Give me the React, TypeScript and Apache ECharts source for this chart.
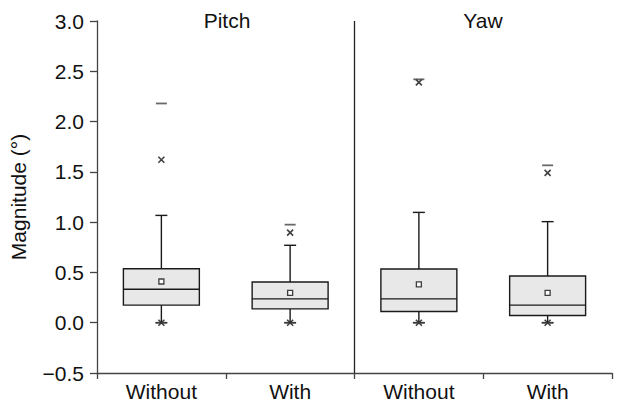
import React, { useEffect, useRef } from "react";
import * as echarts from "echarts";

const categories = ["Pitch|Without", "Pitch|With", "Yaw|Without", "Yaw|With"];
const groupTitles = ["Pitch", "Yaw"];
// [category, lower whisker, Q1, median, Q3, upper whisker]
const boxes = [
  [0, 0, 0.175, 0.333, 0.537, 1.067],
  [1, 0, 0.138, 0.237, 0.405, 0.77],
  [2, 0, 0.112, 0.237, 0.534, 1.097],
  [3, 0, 0.072, 0.175, 0.464, 1.005],
];
const means = [
  [0, 0.41],
  [1, 0.296],
  [2, 0.382],
  [3, 0.296],
];
// 1% / 99% markers (crosses)
const crosses = [
  [0, 1.62], [0, 0],
  [1, 0.896], [1, 0],
  [2, 2.39], [2, 0],
  [3, 1.49], [3, 0],
];
// min / max markers (dashes)
const dashes = [
  [0, 2.18], [0, 0],
  [1, 0.975], [1, 0],
  [2, 2.42], [2, 0],
  [3, 1.565], [3, 0],
];
const separatorPosition = 2; // boundary between Pitch and Yaw groups
const yMin = -0.5;
const yMax = 3.0;
const yStep = 0.5;

export default function App() {
  const ref = useRef<HTMLDivElement>(null);
  useEffect(() => {
    if (!ref.current) return;
    const chart = echarts.init(ref.current, undefined, { renderer: "svg" });
    const font = "Liberation Sans, Arial, sans-serif";
    const ink = "#111";
    const axisColor = "#444";
    chart.setOption({
      animation: false,
      backgroundColor: "#fff",
      grid: { left: 96, right: 8, top: 21, bottom: 34 },
      xAxis: [
        {
          type: "category",
          data: categories,
          boundaryGap: true,
          axisLine: { onZero: false, lineStyle: { color: axisColor, width: 1.3 } },
          axisTick: { show: true, length: 6, lineStyle: { color: axisColor, width: 1.3 } },
          axisLabel: {
            formatter: (v: string) => v.split("|")[1],
            fontSize: 21,
            color: ink,
            fontFamily: font,
            margin: 8,
          },
          splitLine: { show: false },
        },
        {
          type: "value",
          min: 0,
          max: categories.length,
          show: false,
        },
      ],
      yAxis: {
        type: "value",
        min: yMin,
        max: yMax,
        interval: yStep,
        name: "Magnitude (°)",
        nameLocation: "middle",
        nameGap: 68,
        nameTextStyle: { fontSize: 21, color: ink, fontFamily: font },
        axisLine: { show: true, lineStyle: { color: axisColor, width: 1.3 } },
        axisTick: { show: true, length: 7, lineStyle: { color: axisColor, width: 1.3 } },
        axisLabel: {
          formatter: (v: number) => (v < 0 ? "\u2212" + Math.abs(v).toFixed(1) : v.toFixed(1)),
          fontSize: 21,
          color: ink,
          fontFamily: font,
          margin: 13,
        },
        splitLine: { show: false },
      },
      graphic: groupTitles.map((t, i) => ({
        type: "text",
        x: i === 0 ? 227 : 483,
        y: 10,
        style: { text: t, fontSize: 21, fill: ink, fontFamily: font, textAlign: "center" },
      })),
      series: [
        {
          type: "custom",
          data: boxes,
          encode: { x: 0, y: [1, 2, 3, 4, 5] },
          renderItem: (params: any, api: any) => {
            const c = api.value(0);
            const pLow = api.coord([c, api.value(1)]);
            const pQ1 = api.coord([c, api.value(2)]);
            const pMed = api.coord([c, api.value(3)]);
            const pQ3 = api.coord([c, api.value(4)]);
            const pHigh = api.coord([c, api.value(5)]);
            const bw = api.size([1, 0])[0] * 0.59;
            const cap = 12;
            const x = pMed[0];
            const ls = { stroke: "#1a1a1a", lineWidth: 1.4 };
            return {
              type: "group",
              children: [
                { type: "line", shape: { x1: x, y1: pQ3[1], x2: x, y2: pHigh[1] }, style: ls },
                { type: "line", shape: { x1: x, y1: pQ1[1], x2: x, y2: pLow[1] }, style: ls },
                { type: "line", shape: { x1: x - cap / 2, y1: pHigh[1], x2: x + cap / 2, y2: pHigh[1] }, style: ls },
                { type: "line", shape: { x1: x - cap / 2, y1: pLow[1], x2: x + cap / 2, y2: pLow[1] }, style: ls },
                {
                  type: "rect",
                  shape: { x: x - bw / 2, y: pQ3[1], width: bw, height: pQ1[1] - pQ3[1] },
                  style: { fill: "#e8e8e8", stroke: "#1a1a1a", lineWidth: 1.4 },
                },
                { type: "line", shape: { x1: x - bw / 2, y1: pMed[1], x2: x + bw / 2, y2: pMed[1] }, style: ls },
              ],
            };
          },
          z: 2,
        },
        {
          type: "scatter",
          data: means,
          symbol: "rect",
          symbolSize: 5,
          itemStyle: { color: "#fff", borderColor: "#111", borderWidth: 1.3 },
          z: 5,
        },
        {
          type: "scatter",
          data: crosses,
          symbol: "path://M0,0L10,10M10,0L0,10",
          symbolSize: 6,
          itemStyle: { color: "none", borderColor: "#111", borderWidth: 1.6 },
          z: 5,
        },
        {
          type: "scatter",
          data: dashes,
          symbol: "rect",
          symbolSize: [11, 1.8],
          itemStyle: { color: "#444" },
          z: 5,
        },
        {
          type: "scatter",
          xAxisIndex: 1,
          data: [],
          markLine: {
            silent: true,
            symbol: ["none", "none"],
            label: { show: false },
            lineStyle: { color: "#222", type: "solid", width: 1.3 },
            data: [{ xAxis: separatorPosition }],
          },
        },
      ],
    });
    return () => chart.dispose();
  }, []);
  return (
    <div
      ref={ref}
      style={{ position: "fixed", left: 0, top: 0, width: 620, height: 407, background: "#fff" }}
    />
  );
}
